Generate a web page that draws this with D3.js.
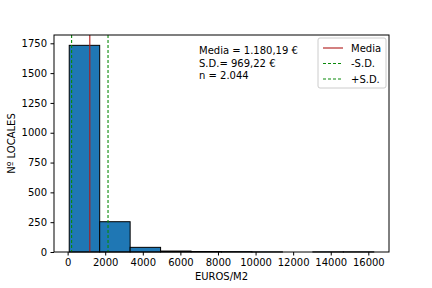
<!DOCTYPE html>
<html>
<head>
<meta charset="utf-8">
<script src="https://cdn.jsdelivr.net/npm/d3@7"></script>
<style>
  body { margin: 0; background: #fff; }
  svg { font-family: 'DejaVu Sans', sans-serif; }
</style>
</head>
<body>
<svg width="432" height="288"></svg>
<script>
(function (d3) {
  'use strict'

  // histogram of euros/m2, 10 bins between min and max
  const binMin = 85
  const binMax = 16290
  const counts = [1733, 254, 39, 8, 4, 3, 1, 0, 1, 1]
  const mean = 1180.19
  const sd = 969.22
  const xTicks = [0, 2000, 4000, 6000, 8000, 10000, 12000, 14000, 16000]
  const yTicks = [0, 250, 500, 750, 1000, 1250, 1500, 1750]
  const statLines = ['Media = 1.180,19 €', 'S.D.= 969,22 €', 'n = 2.044']
  const legendItems = [
    { label: 'Media', color: '#b01818', dash: null },
    { label: '-S.D.', color: '#0a8a0a', dash: '3,2' },
    { label: '+S.D.', color: '#0a8a0a', dash: '3,2' }
  ]

  const svg = d3.select('svg')
  const margin = { top: 35, right: 43, bottom: 36, left: 54 }
  const width = 432
  const height = 288
  const innerWidth = width - margin.left - margin.right
  const innerHeight = height - margin.top - margin.bottom

  const binW = (binMax - binMin) / counts.length
  const bins = counts.map((c, i) => ({ x0: binMin + i * binW, x1: binMin + (i + 1) * binW, n: c }))
  const span = binMax - binMin

  const x = d3.scaleLinear().
    domain([binMin - span * 0.05, binMax + span * 0.05]).
    range([0, innerWidth])
  const y = d3.scaleLinear().
    domain([0, d3.max(counts) * 1.05]).
    range([innerHeight, 0])

  const g = svg.append('g').
    attr('transform', `translate(${margin.left},${margin.top})`)

  g.selectAll('rect').data(bins).
    enter().append('rect').
    attr('x', d => x(d.x0)).
    attr('y', d => y(d.n)).
    attr('width', d => x(d.x1) - x(d.x0)).
    attr('height', d => innerHeight - y(d.n)).
    attr('fill', '#1f77b4').
    attr('stroke', 'black').
    attr('stroke-width', 1)

  const vlines = [
    { v: mean, color: legendItems[0].color, dash: null },
    { v: mean - sd, color: legendItems[1].color, dash: '3,2' },
    { v: mean + sd, color: legendItems[2].color, dash: '3,2' }
  ]
  g.selectAll('line.v').data(vlines).
    enter().append('line').
    attr('class', 'v').
    attr('x1', d => x(d.v)).
    attr('x2', d => x(d.v)).
    attr('y1', 0).
    attr('y2', innerHeight).
    attr('stroke', d => d.color).
    attr('stroke-width', 1.1).
    attr('stroke-dasharray', d => d.dash)

  const xAxis = g.append('g').
    attr('transform', `translate(0,${innerHeight})`).
    call(d3.axisBottom(x).tickValues(xTicks).tickFormat(d3.format('d')).tickSize(3.5).tickPadding(3.5))
  const yAxis = g.append('g').
    call(d3.axisLeft(y).tickValues(yTicks).tickFormat(d3.format('d')).tickSize(3.5).tickPadding(3.5))
  ;[xAxis, yAxis].forEach(a => {
    a.selectAll('text').attr('font-size', 10).attr('fill', '#000').
      attr('font-family', 'DejaVu Sans, sans-serif')
    a.selectAll('line').attr('stroke', '#000')
    a.select('.domain').remove()
  })

  g.append('rect').
    attr('width', innerWidth).
    attr('height', innerHeight).
    attr('fill', 'none').
    attr('stroke', '#000').
    attr('stroke-width', 1)

  svg.append('text').
    attr('x', margin.left + innerWidth / 2).
    attr('y', 280).
    attr('text-anchor', 'middle').
    attr('font-size', 10).
    text('EUROS/M2')

  svg.append('text').
    attr('transform', `translate(15,${margin.top + innerHeight / 2}) rotate(-90)`).
    attr('text-anchor', 'middle').
    attr('font-size', 10).
    text('Nº LOCALES')

  svg.append('g').selectAll('text').data(statLines).
    enter().append('text').
    attr('x', 199).
    attr('y', (d, i) => 54 + i * 12.5).
    attr('font-size', 10).
    text(d => d)

  const legend = svg.append('g').attr('transform', 'translate(318,38)')
  legend.append('rect').
    attr('width', 68).
    attr('height', 50).
    attr('rx', 2).
    attr('fill', '#fff').
    attr('fill-opacity', 0.8).
    attr('stroke', '#ccc')
  const li = legend.selectAll('g').data(legendItems).
    enter().append('g').
    attr('transform', (d, i) => `translate(0,${10 + i * 15.5})`)
  li.append('line').
    attr('x1', 5).
    attr('x2', 25).
    attr('stroke', d => d.color).
    attr('stroke-width', 1.1).
    attr('stroke-dasharray', d => d.dash)
  li.append('text').
    attr('x', 33).
    attr('dy', '0.35em').
    attr('font-size', 10).
    text(d => d.label)
}(d3))
</script>
</body>
</html>
